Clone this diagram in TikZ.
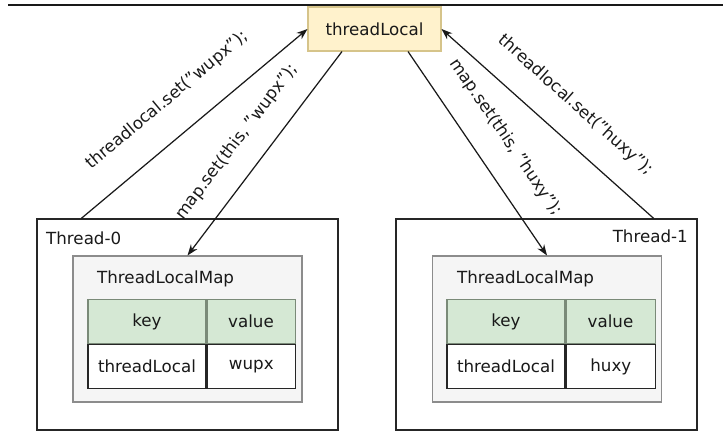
\documentclass[tikz,border=0pt]{standalone}
\usepackage{fontspec}
\setmainfont{DejaVu Sans}
\usetikzlibrary{arrows.meta,positioning}
\definecolor{tlyellow}{HTML}{FFF2CC}
\definecolor{tlborder}{HTML}{D6C48A}
\definecolor{mapfill}{HTML}{F5F5F5}
\definecolor{mapborder}{HTML}{8C8C8C}
\definecolor{headgreen}{HTML}{D5E8D4}
\definecolor{headborder}{HTML}{7A8A78}

\begin{document}
\begin{tikzpicture}[x=0.02cm, y=-0.02cm,
  every node/.style={font=\fontsize{9.5}{11}\selectfont, text=black!90},
  threadbox/.style={draw=black!85, line width=0.75pt, minimum width=6.02cm,
    minimum height=4.22cm, inner sep=0pt},
  mapbox/.style={fill=mapfill, draw=mapborder, line width=0.6pt,
    minimum width=4.58cm, minimum height=2.92cm, inner sep=0pt},
  headcell/.style={fill=headgreen, draw=headborder, line width=0.6pt,
    minimum height=0.88cm, inner sep=0pt},
  bodycell/.style={fill=white, draw=black!85, line width=0.75pt,
    minimum height=0.88cm, inner sep=0pt},
  call/.style={draw=black!90, line width=0.7pt,
    -{Stealth[length=2.2mm, width=1.6mm]}},
  calllabel/.style={sloped, inner sep=1pt}]

  \useasboundingbox (0,0) rectangle (723,446);

  % ---- top rule ----
  \draw[black!90, line width=0.9pt] (8,5) -- (723,5);

  % ---- shared object ----
  \node[fill=tlyellow, draw=tlborder, line width=0.6pt, minimum width=2.66cm,
    minimum height=0.88cm] (tl) at (374.5,29) {threadLocal};

  % ============ Thread-0 ============
  \node[threadbox] (thread0) at (187.5,324.5) {};
  \node[anchor=west] (name0) at (40,238) {Thread-0};
  \node[mapbox] (map0) at (187.5,329) {};
  \node[anchor=west] (title0) at (91,279) {ThreadLocalMap};
  % table
  \node[headcell, minimum width=2.36cm] (key0) at (147,321.5) {key};
  \node[headcell, minimum width=1.76cm, right=0pt of key0] (value0) {value};
  \node[bodycell, minimum width=2.36cm, below=0pt of key0] (tlkey0) {threadLocal};
  \node[bodycell, minimum width=1.76cm, right=0pt of tlkey0] (val0) {wupx};

  % ============ Thread-1 ============
  \node[threadbox] (thread1) at (546.5,324.5) {};
  \node[anchor=east] (name1) at (694,236) {Thread-1};
  \node[mapbox] (map1) at (547,329) {};
  \node[anchor=west] (title1) at (451,279) {ThreadLocalMap};
  % table
  \node[headcell, minimum width=2.36cm] (key1) at (506,321.5) {key};
  \node[headcell, minimum width=1.78cm, right=0pt of key1] (value1) {value};
  \node[bodycell, minimum width=2.36cm, below=0pt of key1] (tlkey1) {threadLocal};
  \node[bodycell, minimum width=1.78cm, right=0pt of tlkey1] (val1) {huxy};

  % ---- calls ----
  \draw[call] ([xshift=0.9cm]thread0.north west) --
    node[calllabel, pos=0.48, above=0.5cm] {threadlocal.set("wupx");} (tl.west);
  \draw[call] ([xshift=-0.65cm]tl.south) --
    node[calllabel, pos=0.53, above=0.38cm] {map.set(this, "wupx");} (map0.north);
  \draw[call] ([xshift=0.67cm]tl.south) --
    node[calllabel, pos=0.51, above=0.44cm] {map.set(this, "huxy");} (map1.north);
  \draw[call] ([xshift=-0.88cm]thread1.north east) --
    node[calllabel, pos=0.47, above=0.44cm] {threadlocal.set("huxy");} (tl.east);

\end{tikzpicture}
\end{document}
